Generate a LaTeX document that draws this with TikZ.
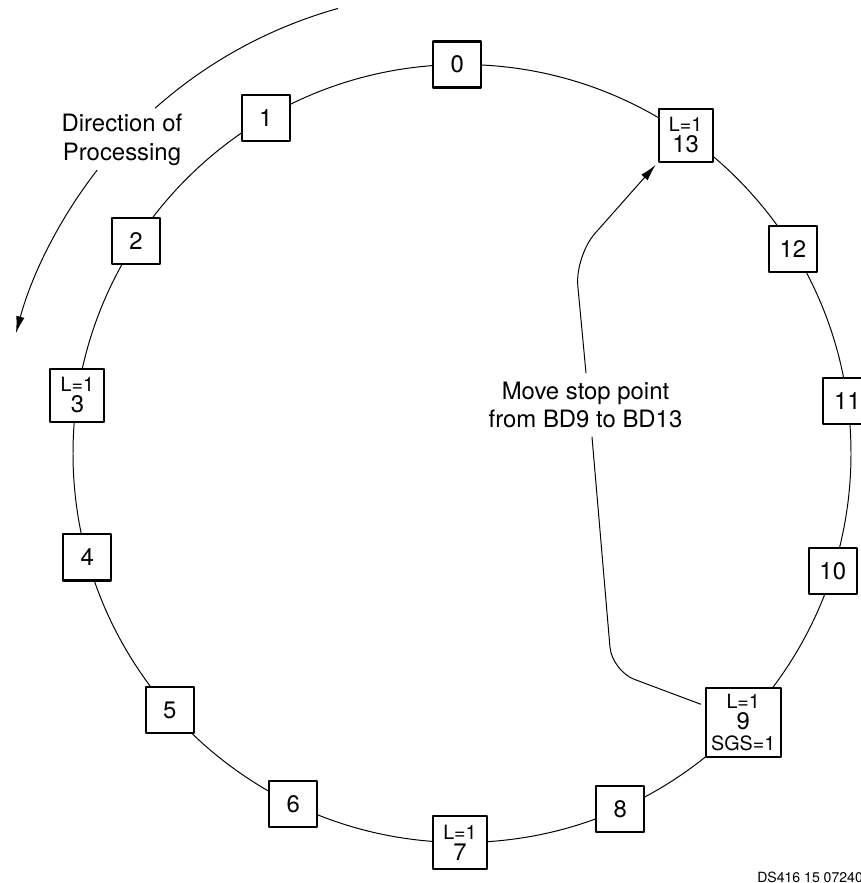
\documentclass[tikz,border=0pt]{standalone}
\usepackage{fontspec}
\setmainfont{TeX Gyre Heros}
\usetikzlibrary{calc,arrows.meta}

\begin{document}
\begin{tikzpicture}[x=0.025cm, y=0.025cm, >={Latex[length=12pt,width=6pt]}, line cap=round, line join=round]

% --- Global TikZ Styles ---
\tikzset{
    ring/.style={
        draw=black,
        line width=0.7pt
    },
    pointer/.style={
        ->,
        draw=black,
        line width=0.7pt
    },
    bd/.style={
        draw=black,
        line width=1.5pt,
        fill=white,
        inner sep=0pt,
        minimum width=1.2cm,
        minimum height=1.15cm,
        font=\fontsize{17}{20}\selectfont
    },
    bdflag/.style={
        bd,
        minimum width=1.35cm,
        minimum height=1.32cm,
        align=center,
        font=\fontsize{14}{15}\selectfont
    },
    note/.style={
        align=center,
        inner sep=0pt,
        font=\fontsize{17}{20.5}\selectfont
    }
}

\useasboundingbox (0,0) rectangle (861,883);
\clip (0,0) rectangle (861,883);

\coordinate (c) at (462,429.5);
\pgfmathsetmacro{\rRing}{389}
\pgfmathsetmacro{\rDir}{462}

% --- Ring of buffer descriptors ---
\draw[ring] (c) circle[radius=\rRing];

\foreach \i/\a in {0/90.7, 1/120.3, 2/146.9, 4/195.5, 5/221.3, 6/244.3, 8/294.0, 10/342.4, 11/7.8, 12/31.7}
    \node[bd] (b\i) at ($(c)+(\a:\rRing)$) {\i};

\foreach \i/\a in {3/171.4, 7/269.7, 13/54.9}
    \node[bdflag] (b\i) at ($(c)+(\a:\rRing)$) {L=1\\{\fontsize{17}{15}\selectfont\i}};

\node[bdflag, minimum width=1.87cm, minimum height=1.72cm] (b9) at ($(c)+(316.3:\rRing)$)
    {L=1\\{\fontsize{17}{15}\selectfont 9}\\SGS=1};

% --- Direction of processing ---
\node[note] (dir) at (122,743) {Direction of\\Processing};
\draw[ring] ($(c)+(105.6:\rDir)$) arc[start angle=105.6, end angle=131.6, radius=\rDir];
\draw[pointer] ($(c)+(142.2:\rDir)$) arc[start angle=142.2, end angle=164.9, radius=\rDir];

% --- Move stop point ---
\node[note] (move) at (585.5,478) {Move stop point\\from BD9 to BD13};

\coordinate (m1) at (612,212);
\coordinate (m2) at (592,446);
\coordinate (m3) at (586,510);
\coordinate (m4) at (575,627);

\draw[ring, rounded corners=0.6cm] ($(b9.west)+(-4,18)$) -- (m1) -- (m2);
\draw[pointer, rounded corners=0.75cm, shorten >=2pt] (m3) -- (m4) -- (b13.south west);

% --- Figure tag ---
\node[anchor=base west, inner sep=0pt, font=\fontsize{10}{12}\selectfont] (tag) at (757,1) {DS416 15 07240};

\end{tikzpicture}
\end{document}
